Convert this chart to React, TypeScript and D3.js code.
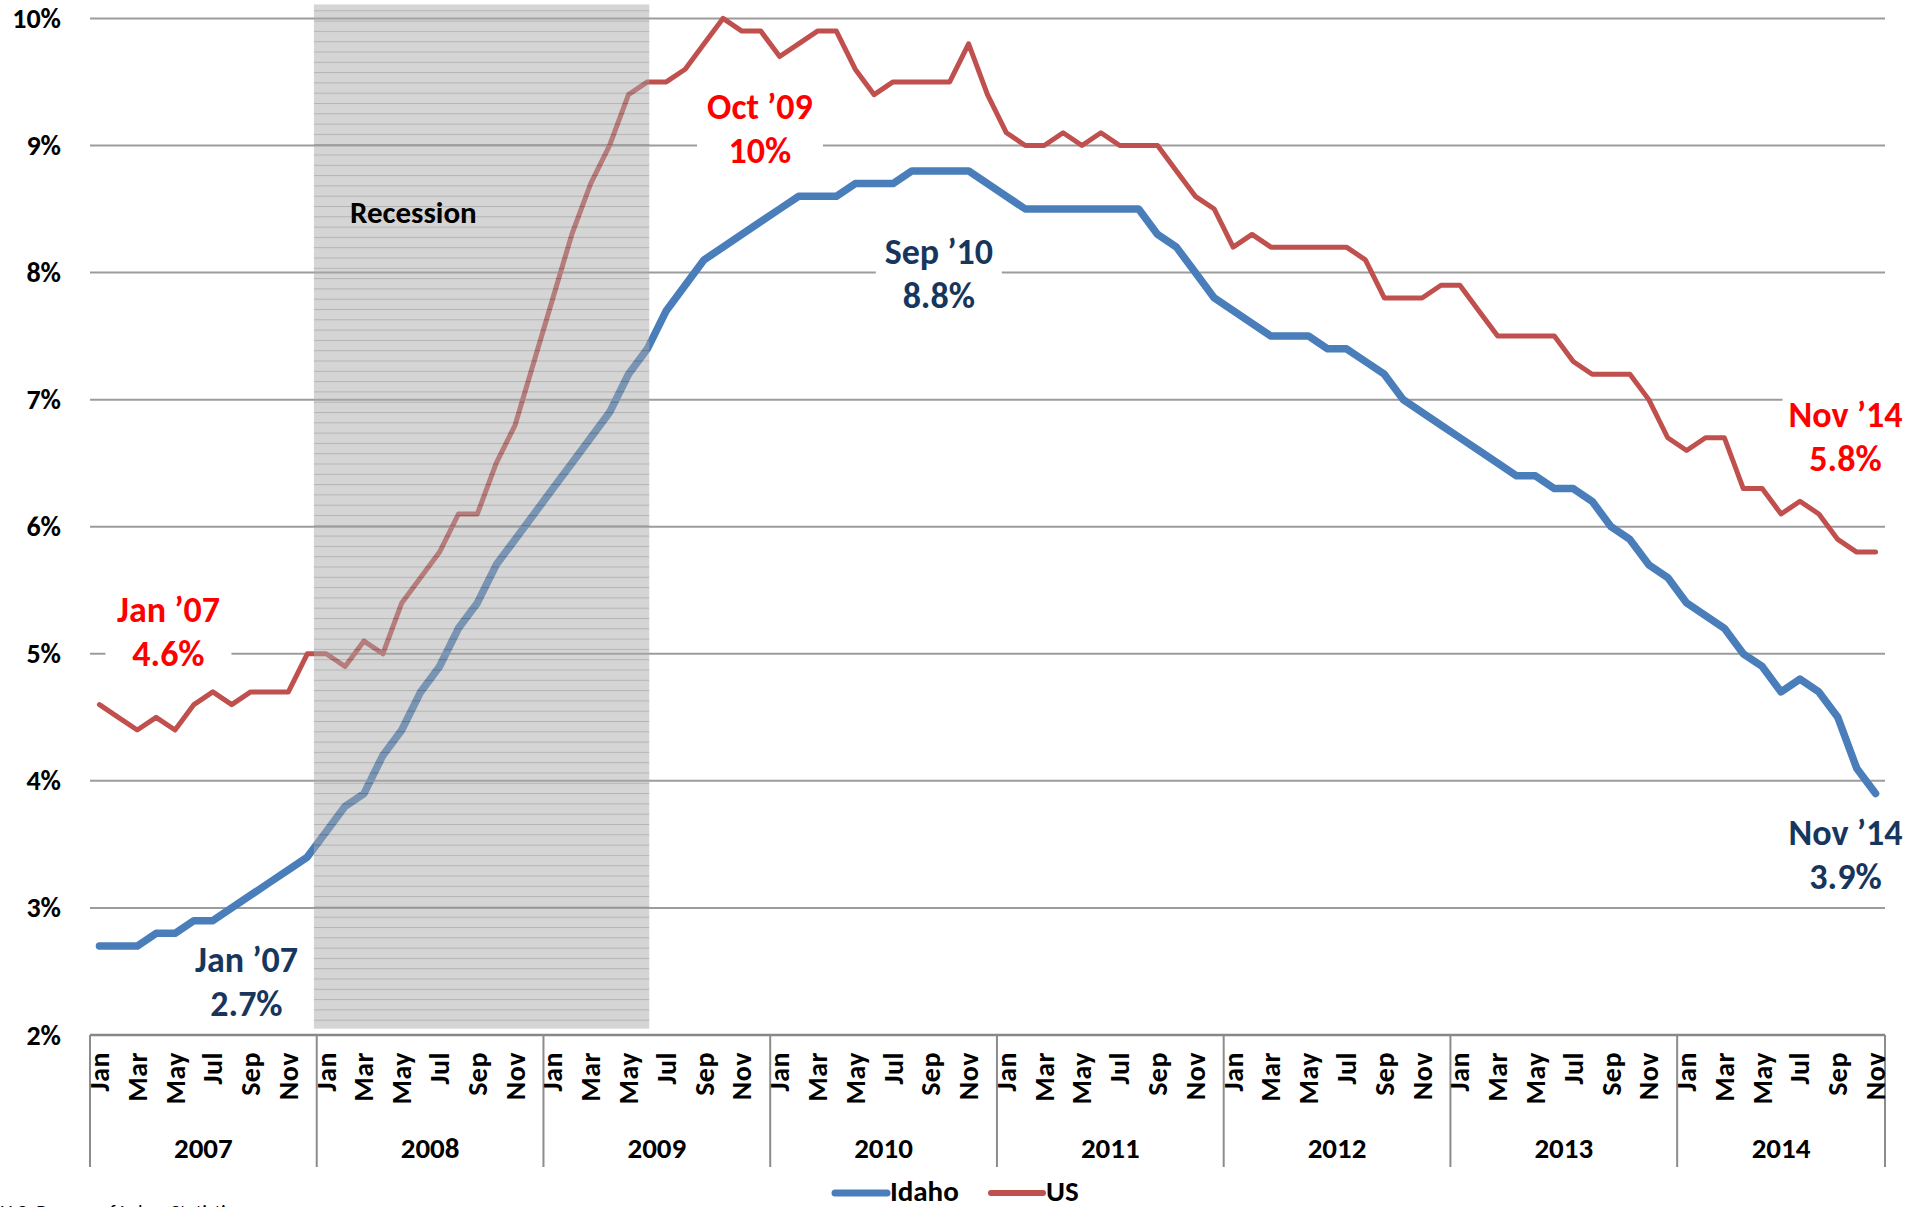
import React, { useEffect, useRef } from 'react';
import * as d3 from 'd3';

const years = [2007, 2008, 2009, 2010, 2011, 2012, 2013, 2014];
const monthNames = ['Jan', 'Feb', 'Mar', 'Apr', 'May', 'Jun', 'Jul', 'Aug', 'Sep', 'Oct', 'Nov', 'Dec'];

// Jan 2007 .. Nov 2014, monthly unemployment rate (%)
const idahoRate = [
  2.7, 2.7, 2.7, 2.8, 2.8, 2.9, 2.9, 3.0, 3.1, 3.2, 3.3, 3.4,
  3.6, 3.8, 3.9, 4.2, 4.4, 4.7, 4.9, 5.2, 5.4, 5.7, 5.9, 6.1,
  6.3, 6.5, 6.7, 6.9, 7.2, 7.4, 7.7, 7.9, 8.1, 8.2, 8.3, 8.4,
  8.5, 8.6, 8.6, 8.6, 8.7, 8.7, 8.7, 8.8, 8.8, 8.8, 8.8, 8.7,
  8.6, 8.5, 8.5, 8.5, 8.5, 8.5, 8.5, 8.5, 8.3, 8.2, 8.0, 7.8,
  7.7, 7.6, 7.5, 7.5, 7.5, 7.4, 7.4, 7.3, 7.2, 7.0, 6.9, 6.8,
  6.7, 6.6, 6.5, 6.4, 6.4, 6.3, 6.3, 6.2, 6.0, 5.9, 5.7, 5.6,
  5.4, 5.3, 5.2, 5.0, 4.9, 4.7, 4.8, 4.7, 4.5, 4.1, 3.9,
];

const usRate = [
  4.6, 4.5, 4.4, 4.5, 4.4, 4.6, 4.7, 4.6, 4.7, 4.7, 4.7, 5.0,
  5.0, 4.9, 5.1, 5.0, 5.4, 5.6, 5.8, 6.1, 6.1, 6.5, 6.8, 7.3,
  7.8, 8.3, 8.7, 9.0, 9.4, 9.5, 9.5, 9.6, 9.8, 10.0, 9.9, 9.9,
  9.7, 9.8, 9.9, 9.9, 9.6, 9.4, 9.5, 9.5, 9.5, 9.5, 9.8, 9.4,
  9.1, 9.0, 9.0, 9.1, 9.0, 9.1, 9.0, 9.0, 9.0, 8.8, 8.6, 8.5,
  8.2, 8.3, 8.2, 8.2, 8.2, 8.2, 8.2, 8.1, 7.8, 7.8, 7.8, 7.9,
  7.9, 7.7, 7.5, 7.5, 7.5, 7.5, 7.3, 7.2, 7.2, 7.2, 7.0, 6.7,
  6.6, 6.7, 6.7, 6.3, 6.3, 6.1, 6.2, 6.1, 5.9, 5.8, 5.8,
];

const yTicks = [2, 3, 4, 5, 6, 7, 8, 9, 10];
const tickLabels = yTicks.map(v => `${v}%`);

// recession band in month-index units (Dec 2007 .. Jun 2009)
const recessionSpan = [11.85, 29.6];

const callouts = [
  { series: 'us', index: 0, text: ['Jan \u201907', '4.6%'] },
  { series: 'idaho', index: 0, text: ['Jan \u201907', '2.7%'] },
  { series: 'us', index: 33, text: ['Oct \u201909', '10%'] },
  { series: 'idaho', index: 44, text: ['Sep \u201910', '8.8%'] },
  { series: 'us', index: 94, text: ['Nov \u201914', '5.8%'] },
  { series: 'idaho', index: 94, text: ['Nov \u201914', '3.9%'] },
];

const FONT = "Carlito, Lato, 'Open Sans', sans-serif";
const IDAHO = '#4a7ebb';
const US = '#c0504d';

const App = () => {
  const svgRef = useRef(null);

  useEffect(() => {
    const width = 1928;
    const height = 1207;
    const plot = { left: 90, right: 1885, top: 18.4, bottom: 1035 };
    const n = idahoRate.length;

    const svg = d3.select(svgRef.current);
    svg.selectAll('*').remove();
    svg.attr('width', width).attr('height', height).style('background', '#fff');

    const x = d3.scaleLinear().domain([0, n]).range([plot.left, plot.right]);
    const y = d3.scaleLinear().domain([2, 10]).range([plot.bottom, plot.top]);
    const px = i => x(i + 0.5);

    // hatch pattern for recession band
    const defs = svg.append('defs');
    const pat = defs.append('pattern')
      .attr('id', 'recessionHatch')
      .attr('patternUnits', 'userSpaceOnUse')
      .attr('width', 8)
      .attr('height', 10.3);
    pat.append('rect').attr('width', 8).attr('height', 10.3).attr('fill', '#aaaaaa');
    pat.append('line')
      .attr('x1', 0).attr('x2', 8).attr('y1', 0.5).attr('y2', 0.5)
      .attr('stroke', '#6a6a6a').attr('stroke-width', 1);

    // gridlines
    svg.append('g')
      .selectAll('line')
      .data(yTicks.filter(v => v > 2))
      .join('line')
      .attr('x1', plot.left)
      .attr('x2', plot.right)
      .attr('y1', d => y(d))
      .attr('y2', d => y(d))
      .attr('stroke', '#9c9c9c')
      .attr('stroke-width', 2);

    // y tick labels
    svg.append('g')
      .selectAll('text')
      .data(yTicks)
      .join('text')
      .attr('x', 61)
      .attr('y', d => y(d))
      .attr('text-anchor', 'end')
      .attr('dominant-baseline', 'central')
      .style('font-family', FONT)
      .style('font-weight', 700)
      .style('font-size', '28px')
      .attr('fill', '#000')
      .text((d, i) => tickLabels[i]);

    // x axis
    const axis = svg.append('g');
    axis.append('line')
      .attr('x1', plot.left).attr('x2', plot.right)
      .attr('y1', plot.bottom).attr('y2', plot.bottom)
      .attr('stroke', '#878787').attr('stroke-width', 2.5);

    const yearStarts = years.map((yr, i) => i * 12);
    const bounds = [...yearStarts, n];
    axis.selectAll('line.sep')
      .data(bounds)
      .join('line')
      .attr('class', 'sep')
      .attr('x1', d => x(d)).attr('x2', d => x(d))
      .attr('y1', plot.bottom).attr('y2', 1167)
      .attr('stroke', '#8c8c8c').attr('stroke-width', 2);

    const monthIdx = d3.range(n).filter(i => i % 2 === 0);
    axis.selectAll('text.month')
      .data(monthIdx)
      .join('text')
      .attr('class', 'month')
      .attr('transform', i => `translate(${px(i)},${plot.bottom + 17}) rotate(-90)`)
      .attr('text-anchor', 'end')
      .attr('dominant-baseline', 'central')
      .style('font-family', FONT)
      .style('font-weight', 700)
      .style('font-size', '28px')
      .style('letter-spacing', '0.5px')
      .attr('fill', '#000')
      .text(i => monthNames[i % 12]);

    axis.selectAll('text.year')
      .data(years)
      .join('text')
      .attr('class', 'year')
      .attr('x', (yr, i) => (x(bounds[i]) + x(bounds[i + 1])) / 2)
      .attr('y', 1158)
      .attr('text-anchor', 'middle')
      .style('font-family', FONT)
      .style('font-weight', 700)
      .style('font-size', '29px')
      .attr('fill', '#000')
      .text(d => d);

    // series lines
    const lineGen = d3.line()
      .x((d, i) => px(i))
      .y(d => y(d))
      .curve(d3.curveLinear);

    svg.append('path')
      .datum(usRate)
      .attr('fill', 'none')
      .attr('stroke', US)
      .attr('stroke-width', 5)
      .attr('stroke-linejoin', 'round')
      .attr('stroke-linecap', 'round')
      .attr('d', lineGen);

    svg.append('path')
      .datum(idahoRate)
      .attr('fill', 'none')
      .attr('stroke', IDAHO)
      .attr('stroke-width', 7.5)
      .attr('stroke-linejoin', 'round')
      .attr('stroke-linecap', 'round')
      .attr('d', lineGen);

    // recession overlay
    svg.append('rect')
      .attr('x', x(recessionSpan[0]))
      .attr('y', y(10.11))
      .attr('width', x(recessionSpan[1]) - x(recessionSpan[0]))
      .attr('height', y(2.05) - y(10.11))
      .attr('fill', 'url(#recessionHatch)')
      .attr('opacity', 0.5);

    svg.append('text')
      .attr('x', x(recessionSpan[0]) + 36)
      .attr('y', y(8.48))
      .attr('dominant-baseline', 'central')
      .style('font-family', FONT)
      .style('font-weight', 700)
      .style('font-size', '31px')
      .attr('fill', '#000')
      .text('Recession');

    // callouts
    const offsets = [
      [69, -73], [147, 36], [37, 111], [8, 103], [-30, -115], [-30, 61],
    ];
    callouts.forEach((c, k) => {
      const vals = c.series === 'us' ? usRate : idahoRate;
      const cx = px(c.index) + offsets[k][0];
      const cy = y(vals[c.index]) + offsets[k][1];
      const color = c.series === 'us' ? '#ff0000' : '#17365d';
      const g = svg.append('g');
      g.append('rect')
        .attr('x', cx - 63)
        .attr('y', cy - 47)
        .attr('width', 126)
        .attr('height', 94)
        .attr('fill', '#fff');
      c.text.forEach((t, j) => {
        g.append('text')
          .attr('x', cx)
          .attr('y', cy + (j === 0 ? -22 : 22))
          .attr('text-anchor', 'middle')
          .attr('dominant-baseline', 'central')
          .style('font-family', FONT)
          .style('font-weight', 700)
          .style('font-size', '36px')
          .attr('fill', color)
          .text(t);
      });
    });

    // legend
    const legend = svg.append('g');
    const items = [
      { name: 'Idaho', color: IDAHO, w: 7, x0: 835 },
      { name: 'US', color: US, w: 6, x0: 991 },
    ];
    items.forEach(it => {
      legend.append('line')
        .attr('x1', it.x0).attr('x2', it.x0 + 52)
        .attr('y1', 1193).attr('y2', 1193)
        .attr('stroke', it.color)
        .attr('stroke-width', it.w)
        .attr('stroke-linecap', 'round');
      legend.append('text')
        .attr('x', it.x0 + 55)
        .attr('y', 1191)
        .attr('dominant-baseline', 'central')
        .style('font-family', FONT)
        .style('font-weight', 700)
        .style('font-size', '29px')
        .attr('fill', '#000')
        .text(it.name);
    });

    svg.append('text')
      .attr('x', 0)
      .attr('y', 1219)
      .style('font-family', FONT)
      .style('font-size', '20px')
      .attr('fill', '#000')
      .text('U.S. Bureau of Labor Statistics');
  }, []);

  return (
    <div style={{ position: 'absolute', left: 0, top: 0, width: 1928, height: 1207, overflow: 'hidden' }}>
      <svg ref={svgRef} style={{ display: 'block' }}></svg>
    </div>
  );
};

export default App;
